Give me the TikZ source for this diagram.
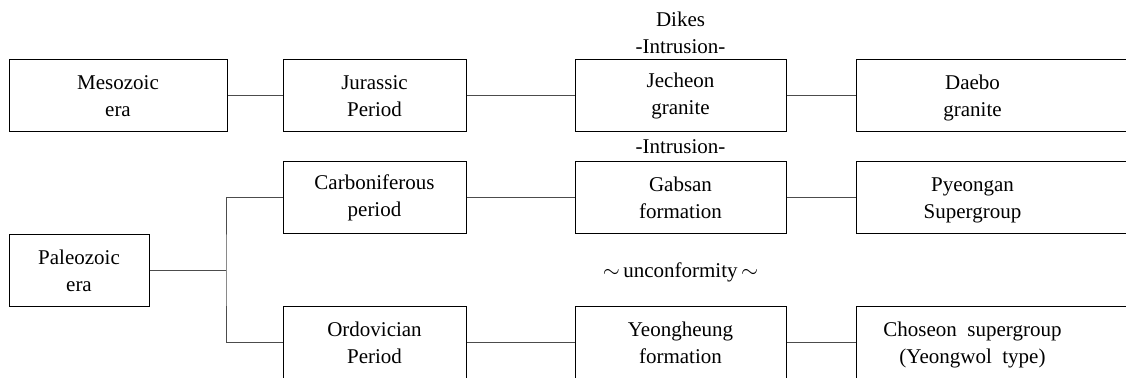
\documentclass[tikz,border=0pt]{standalone}
\usepackage{fontspec}
\setmainfont{Liberation Serif}
\usetikzlibrary{positioning}
\tikzset{
    %Define style for boxes
    unit/.style={
           rectangle,
           draw=black, line width=0.5pt,
           minimum width=91.5pt,
           minimum height=36pt,
           inner sep=0pt,
           align=center,
           font=\fontsize{10.5}{13.5}\selectfont},
    %Define style for the boxes of the last column (cut at the right)
    rock/.style={
           unit,
           anchor=west,
           minimum width=142pt,
           label={[annote, xshift=-13pt, yshift=-1pt]center:#1}},
    annote/.style={
          align=center,
          inner sep=0pt,
          font=\fontsize{10.5}{13.5}\selectfont
    },
    % Define line style
    link/.style={
           draw=black!70,
           line width=0.5pt},
}
\begin{document}
\begin{tikzpicture}[x=0.5pt, y=-0.5pt]
  \path[use as bounding box, clip] (0,0) rectangle (1126,378);
  % Mesozoic row
  \node[unit, minimum width=109pt] (meso) at (118,96) {Mesozoic\\era};
  \node[unit] (jur) at (374.5,96) {Jurassic\\Period};
  \node[unit, minimum width=105.5pt] (jech) at (680.5,96) {Jecheon\\granite};
  \node[rock={Daebo\\granite}] (daebo) at (856,96) {};
  % Paleozoic rows
  \node[unit, minimum width=70pt] (paleo) at (79,270.5) {Paleozoic\\era};
  \node[unit] (carb) at (374.5,198) {Carboniferous\\period};
  \node[unit, minimum width=105.5pt] (gabsan) at (680.5,198) {Gabsan\\formation};
  \node[rock={Pyeongan\\Supergroup}] (pyeong) at (856,198) {};
  \node[unit] (ordo) at (374.5,343) {Ordovician\\Period};
  \node[unit, minimum width=105.5pt] (yeong) at (680.5,343) {Yeongheung\\formation};
  \node[rock={Choseon\ \ supergroup\\(Yeongwol\ \ type)}] (choseon) at (856,343) {};
  % notes
  \node[annote] (dikes) at (680.5,32.5) {Dikes\\-Intrusion-};
  \node[annote] (intr) at (680.5,147) {-Intrusion-};
  \node[annote] (unconf) at (680.5,272) {$\sim$\,unconformity\,$\sim$};
  \coordinate (fork) at (226,270.5);
  \path[link] (meso.east) -- (jur.west);
  \path[link] (jur.east) -- (jech.west);
  \path[link] (jech.east) -- (daebo.west);
  \path[link] (paleo.east) -- (fork);
  \path[link] (carb.west) -| (fork) |- (ordo.west);
  \path[link] (carb.east) -- (gabsan.west);
  \path[link] (gabsan.east) -- (pyeong.west);
  \path[link] (ordo.east) -- (yeong.west);
  \path[link] (yeong.east) -- (choseon.west);
\end{tikzpicture}
\end{document}
